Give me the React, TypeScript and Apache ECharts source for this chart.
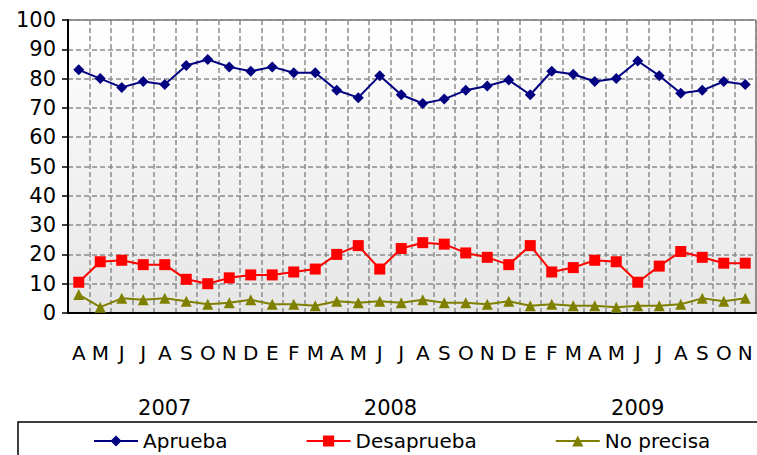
import React, { useEffect, useRef } from "react";
import * as echarts from "echarts";

const months = ["A","M","J","J","A","S","O","N","D","E","F","M","A","M","J","J","A","S","O","N","D","E","F","M","A","M","J","J","A","S","O","N"];
const aprueba = [83,80,77,79,78,84.5,86.5,84,82.5,84,82,82,76,73.5,81,74.5,71.5,73,76,77.5,79.5,74.5,82.5,81.5,79,80,86,81,75,76,79,78];
const desaprueba = [10.5,17.5,18,16.5,16.5,11.5,10,12,13,13,14,15,20,23,15,22,24,23.5,20.5,19,16.5,23,14,15.5,18,17.5,10.5,16,21,19,17,17];
const noPrecisa = [6.3,2,5,4.5,5,4,3,3.5,4.5,3,3,2.5,4,3.5,4,3.5,4.5,3.5,3.5,3,4,2.5,3,2.5,2.5,2,2.5,2.5,3,5,4,5];
const years = ["2007","2008","2009"];
const yearStart = [0,9,21];
const yearCount = [9,12,11];

const W = 757, H = 455;
const gridLeft = 68, gridRight = 1, gridTop = 20, gridBottom = 142;
const regular = "'DejaVu Sans', Verdana, sans-serif";

export default function App() {
  const ref = useRef<HTMLDivElement>(null);
  useEffect(() => {
    document.body.style.margin = "0";
    const chart = echarts.init(ref.current!, null, { renderer: "svg" });
    const plotW = W - gridLeft - gridRight;
    const cell = plotW / months.length;
    const yearTexts = years.map((y, i) => ({
      type: "text",
      x: gridLeft + (yearStart[i] + yearCount[i] / 2) * cell,
      y: 408,
      style: { text: y, fontSize: 21, fontFamily: regular, fill: "#000", align: "center", verticalAlign: "middle" },
    }));
    chart.setOption({
      animation: false,
      backgroundColor: "#fff",
      grid: {
        left: gridLeft, right: gridRight, top: gridTop, bottom: gridBottom,
        show: true,
        borderColor: "#333",
        borderWidth: 1,
        backgroundColor: new echarts.graphic.LinearGradient(0, 0, 0, 1, [
          { offset: 0, color: "#ffffff" },
          { offset: 1, color: "#e6e6e6" },
        ]),
      },
      xAxis: {
        type: "category",
        data: months,
        boundaryGap: true,
        axisLine: { lineStyle: { color: "#000", width: 2 } },
        axisTick: { show: false },
        axisLabel: { interval: 0, fontSize: 20, fontFamily: regular, color: "#000", margin: 30 },
        splitLine: { show: true, interval: 0, lineStyle: { color: "#8c8c8c", type: [5, 3], width: 1.5 } },
      },
      yAxis: {
        type: "value",
        min: 0, max: 100, interval: 10,
        axisLine: { show: true, lineStyle: { color: "#000", width: 2 } },
        axisTick: { show: true, length: 6, lineStyle: { color: "#000", width: 1.5 } },
        axisLabel: { fontSize: 21, fontFamily: regular, color: "#000", margin: 12 },
        splitLine: { show: true, lineStyle: { color: "#8c8c8c", type: [5, 3], width: 1.5 } },
      },
      legend: {
        left: 93, top: 429,
        padding: 0,
        itemGap: 78,
        itemWidth: 44, itemHeight: 14,
        textStyle: { fontSize: 20, fontFamily: regular, color: "#000", lineHeight: 24 },
        data: ["Aprueba", "Desaprueba", "No precisa"],
      },
      graphic: [
        ...yearTexts,
        {
          type: "rect",
          shape: { x: 18, y: 422, width: 760, height: 60 },
          style: { fill: "none", stroke: "#000", lineWidth: 1.5 },
          silent: true,
        },
      ],
      series: [
        {
          name: "Aprueba", type: "line", data: aprueba,
          symbol: "diamond", symbolSize: 11,
          itemStyle: { color: "#000080" },
          lineStyle: { color: "#000080", width: 2 },
        },
        {
          name: "Desaprueba", type: "line", data: desaprueba,
          symbol: "rect", symbolSize: 11,
          itemStyle: { color: "#ff0000" },
          lineStyle: { color: "#ff0000", width: 2 },
        },
        {
          name: "No precisa", type: "line", data: noPrecisa,
          symbol: "triangle", symbolSize: 11,
          itemStyle: { color: "#808000" },
          lineStyle: { color: "#808000", width: 2 },
        },
      ],
    });
    return () => chart.dispose();
  }, []);
  return <div ref={ref} style={{ width: W, height: H }} />;
}
